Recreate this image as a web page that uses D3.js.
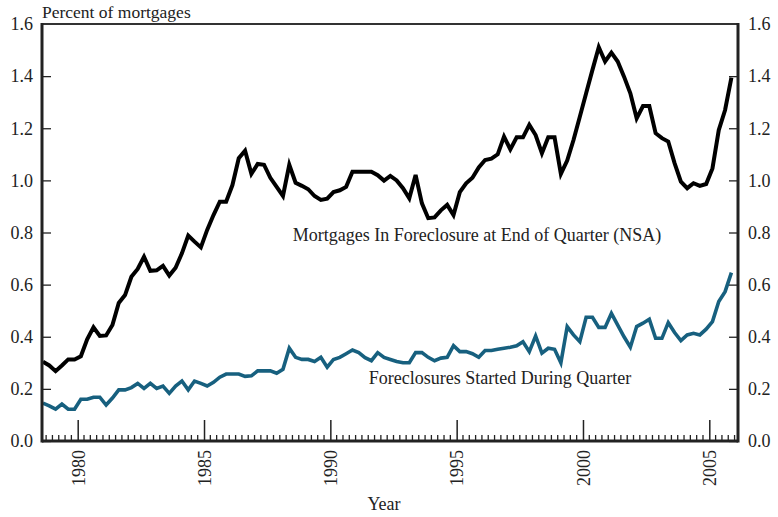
<!DOCTYPE html>
<html>
<head>
<meta charset="utf-8">
<script src="https://cdn.jsdelivr.net/npm/d3@7"></script>
<style>
  body { margin: 0; background: #fff; }
  text { font-family: "Liberation Serif", "DejaVu Serif", serif; fill: #222; }
</style>
</head>
<body>
<svg width="778" height="517"></svg>
<script>
// quarterly series, 1978 Q3 .. 2005 Q4 (percent of mortgages)
var firstQuarter = 1978.5;

var inForeclosure = [
    0.304, 0.29, 0.268, 0.29, 0.313, 0.313, 0.325, 0.39, 0.436, 0.403,
    0.405, 0.445, 0.53, 0.56, 0.63, 0.66, 0.707, 0.653, 0.655, 0.672,
    0.635, 0.665, 0.72, 0.788, 0.765, 0.743, 0.81, 0.867, 0.918, 0.918,
    0.982, 1.085, 1.114, 1.025, 1.063, 1.06, 1.01, 0.975, 0.94, 1.06,
    0.991, 0.979, 0.966, 0.94, 0.925, 0.93, 0.955, 0.962, 0.975, 1.033,
    1.033, 1.033, 1.033, 1.02, 0.999, 1.017, 1.0, 0.97, 0.931, 1.021,
    0.912, 0.855, 0.858, 0.885, 0.906, 0.867, 0.955, 0.989, 1.01, 1.05,
    1.078, 1.083, 1.1, 1.168, 1.119, 1.165, 1.165, 1.213, 1.174, 1.104,
    1.165, 1.165, 1.025, 1.076, 1.155, 1.244, 1.334, 1.424, 1.511, 1.456,
    1.49, 1.456, 1.398, 1.334, 1.238, 1.285, 1.285, 1.181, 1.162, 1.149,
    1.066, 0.995, 0.97, 0.989, 0.979, 0.986, 1.046, 1.193, 1.27, 1.394
];

var startedDuring = [
    0.145, 0.135, 0.122, 0.142, 0.122, 0.122, 0.16, 0.16, 0.168, 0.168,
    0.138, 0.165, 0.196, 0.196, 0.205, 0.221, 0.202, 0.221, 0.202, 0.211,
    0.183, 0.211, 0.23, 0.196, 0.23, 0.221, 0.211, 0.225, 0.245, 0.257,
    0.257, 0.257, 0.248, 0.25, 0.269, 0.269, 0.269, 0.26, 0.275, 0.356,
    0.321, 0.313, 0.313, 0.305, 0.321, 0.283, 0.313, 0.321, 0.335, 0.349,
    0.339, 0.32, 0.308, 0.339, 0.321, 0.313, 0.305, 0.3, 0.3, 0.339,
    0.339, 0.321, 0.308, 0.318, 0.321, 0.366, 0.343, 0.343, 0.335, 0.321,
    0.347, 0.347, 0.352, 0.356, 0.36, 0.365, 0.381, 0.343, 0.403, 0.337,
    0.356, 0.352, 0.3, 0.439, 0.407, 0.381, 0.475, 0.475, 0.436, 0.436,
    0.49, 0.445, 0.4, 0.36, 0.439, 0.452, 0.467, 0.394, 0.394, 0.454,
    0.416, 0.385, 0.407, 0.413, 0.407, 0.429, 0.458, 0.535, 0.573, 0.646
];

var yTicks = [0, 0.2, 0.4, 0.6, 0.8, 1.0, 1.2, 1.4, 1.6];
var yearTicks = [1980, 1985, 1990, 1995, 2000, 2005];

var seriesNames = [
    "Mortgages In Foreclosure at End of Quarter (NSA)",
    "Foreclosures Started During Quarter"
];

var svg = d3.select("svg");

var box = { left: 42, right: 738, top: 24, bottom: 441 };

var x = d3.scaleLinear().domain([1978.587, 2006.136]).range([box.left, box.right]);
var y = d3.scaleLinear().domain([0, 1.6]).range([box.bottom, box.top]);

// mid-quarter dates
function qDate(i) {
    return firstQuarter + i / 4 + 0.125;
}

var line = d3.line()
    .x(function (d, i) { return x(qDate(i)); })
    .y(function (d) { return y(d); });

svg.append("defs").append("clipPath")
    .attr("id", "plot")
    .append("rect")
    .attr("x", box.left).attr("y", box.top)
    .attr("width", box.right - box.left).attr("height", box.bottom - box.top);

var plot = svg.append("g").attr("clip-path", "url(#plot)");

plot.append("path")
    .datum(startedDuring)
    .attr("fill", "none")
    .attr("stroke", "#17607f")
    .attr("stroke-width", 3.6)
    .attr("stroke-linejoin", "miter")
    .attr("d", line);

plot.append("path")
    .datum(inForeclosure)
    .attr("fill", "none")
    .attr("stroke", "#000")
    .attr("stroke-width", 4)
    .attr("stroke-linejoin", "miter")
    .attr("d", line);

// y axes, ticks pointing inward
var yLeft = svg.append("g")
    .attr("transform", "translate(" + box.left + ",0)")
    .call(d3.axisLeft(y).tickValues(yTicks).tickSizeInner(-9).tickSizeOuter(0)
        .tickPadding(9).tickFormat(d3.format(".1f")));

var yRight = svg.append("g")
    .attr("transform", "translate(" + box.right + ",0)")
    .call(d3.axisRight(y).tickValues(yTicks).tickSizeInner(-9).tickSizeOuter(0)
        .tickPadding(10).tickFormat(d3.format(".1f")));

[yLeft, yRight].forEach(function (g) {
    g.select(".domain").remove();
    g.selectAll(".tick line").attr("stroke", "#222").attr("stroke-width", 1.3);
    g.selectAll(".tick text")
        .attr("font-size", 18)
        .attr("fill", "#222")
        .style("font-family", "'Liberation Serif', serif");
    g.selectAll(".tick")
        .filter(function (d) { return d === 1.6; })
        .select("line").remove();
});

// quarterly minor ticks on the bottom
var quarters = d3.range(1978.75, 2006.1, 0.25).filter(function (q) {
    return yearTicks.indexOf(q) < 0;
});

svg.append("g")
    .selectAll("line")
    .data(quarters)
    .enter().append("line")
    .attr("x1", function (d) { return x(d); })
    .attr("x2", function (d) { return x(d); })
    .attr("y1", box.bottom)
    .attr("y2", box.bottom - 6)
    .attr("stroke", "#222")
    .attr("stroke-width", 1.3);

var xAxis = svg.append("g")
    .attr("transform", "translate(0," + box.bottom + ")")
    .call(d3.axisBottom(x).tickValues(yearTicks).tickSizeInner(-21).tickSizeOuter(0)
        .tickFormat(d3.format("d")));

xAxis.select(".domain").remove();
xAxis.selectAll(".tick line").attr("stroke", "#222").attr("stroke-width", 1.5);
xAxis.selectAll(".tick text")
    .attr("font-size", 18)
    .attr("fill", "#222")
    .style("font-family", "'Liberation Serif', serif")
    .attr("text-anchor", "end")
    .attr("dy", "0.35em")
    .attr("transform", "translate(0,9) rotate(-90)")
    .attr("x", 0)
    .attr("y", 0);

// frame
svg.append("line")
    .attr("x1", box.left).attr("x2", box.right).attr("y1", box.top).attr("y2", box.top)
    .attr("stroke", "#333").attr("stroke-width", 2);
svg.append("line")
    .attr("x1", box.left).attr("x2", box.left).attr("y1", box.top - 1).attr("y2", box.bottom + 1.5)
    .attr("stroke", "#222").attr("stroke-width", 3);
svg.append("line")
    .attr("x1", box.right).attr("x2", box.right).attr("y1", box.top - 1).attr("y2", box.bottom + 1.5)
    .attr("stroke", "#222").attr("stroke-width", 3);
svg.append("line")
    .attr("x1", box.left).attr("x2", box.right).attr("y1", box.bottom).attr("y2", box.bottom)
    .attr("stroke", "#222").attr("stroke-width", 3);

// texts
svg.append("text")
    .attr("x", box.left)
    .attr("y", 18)
    .attr("font-size", 17.5)
    .text("Percent of mortgages");

svg.append("text")
    .attr("x", 384)
    .attr("y", 510)
    .attr("text-anchor", "middle")
    .attr("font-size", 18)
    .text("Year");

svg.append("text")
    .attr("x", 477)
    .attr("y", 241)
    .attr("text-anchor", "middle")
    .attr("font-size", 18)
    .text(seriesNames[0]);

svg.append("text")
    .attr("x", 500)
    .attr("y", 384)
    .attr("text-anchor", "middle")
    .attr("font-size", 18)
    .text(seriesNames[1]);
</script>
</body>
</html>
